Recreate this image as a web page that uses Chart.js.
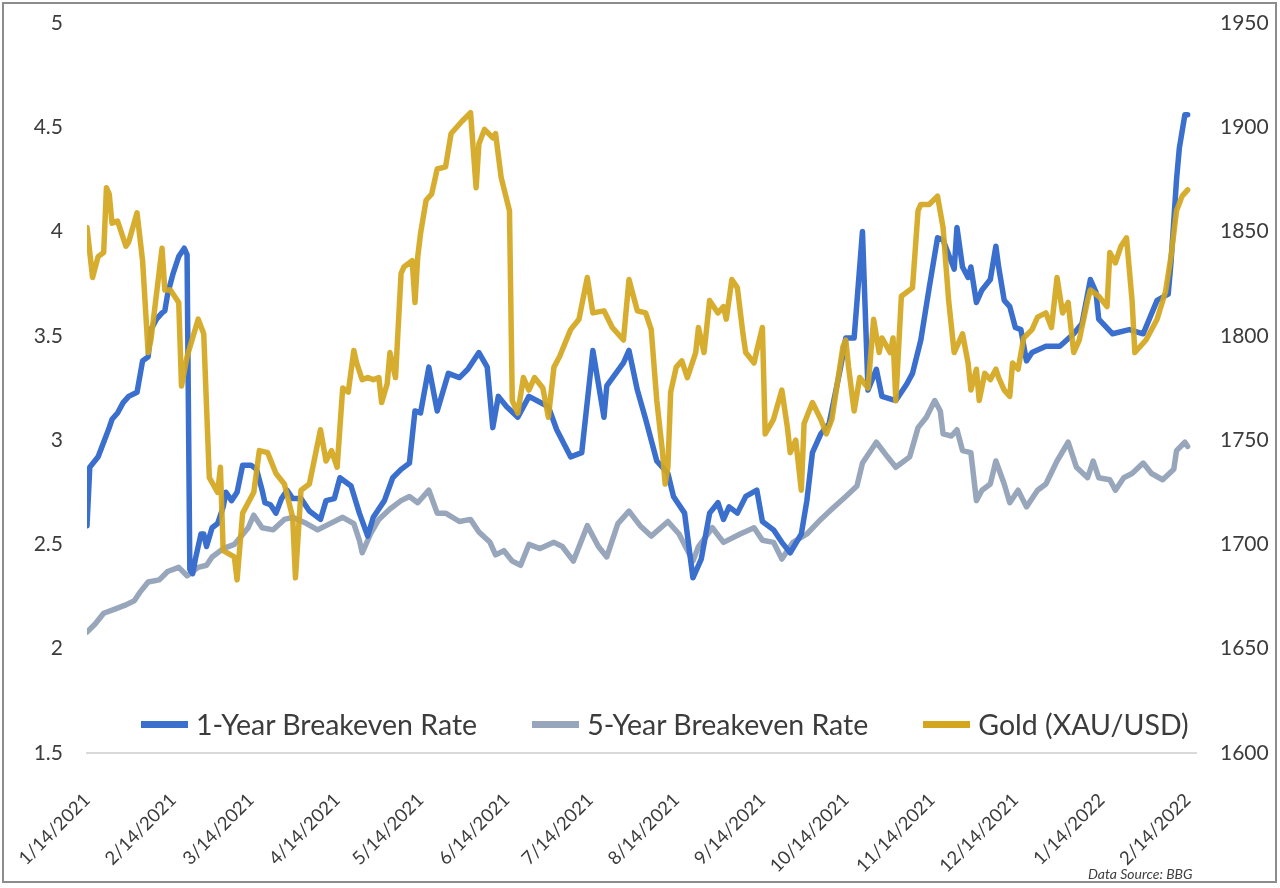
<!DOCTYPE html>
<html>
<head>
<meta charset="utf-8">
<script src="https://cdn.jsdelivr.net/npm/chart.js@4.4.0/dist/chart.umd.min.js"></script>
<style>
  html, body { margin: 0; padding: 0; background: #fff; }
  #wrap { position: relative; width: 1280px; height: 888px; }
  #frame { position: absolute; left: 2px; top: 2px; width: 1271px; height: 877px; border: 2px solid #8c8c8c; pointer-events: none; }
  #legend { position: absolute; left: 141px; top: 707px; display: flex; align-items: center; font-family: Lato, sans-serif; font-size: 28.5px; color: #3c3c3c; white-space: nowrap; }
  #legend .item { display: flex; align-items: center; margin-right: 55px; }
  #legend .swatch { display: inline-block; width: 47px; height: 7px; margin-right: 8px; }
  #source { position: absolute; left: 1088px; top: 865px; font: italic 14px Lato, sans-serif; color: #404040; }
</style>
</head>
<body>
<div id="wrap">
  <canvas id="chart" width="1280" height="888"></canvas>
  <div id="legend"></div>
  <div id="source">Data Source: BBG</div>
  <div id="frame"></div>
</div>
<script>
// x axis tick labels (monthly, m/d/yyyy)
const tickLabels = ['1/14/2021', '2/14/2021', '3/14/2021', '4/14/2021', '5/14/2021', '6/14/2021', '7/14/2021',
  '8/14/2021', '9/14/2021', '10/14/2021', '11/14/2021', '12/14/2021', '1/14/2022', '2/14/2022'];

// series: days counted from 1/14/2021
const oneYearDays = [0,1,4,6,8,9,11,13,15,18,20,22,23,25,27,28,29,31,33,35,36,37,38,39,41,42,43,45,47,49,50,52,54,56,59,61,63,64,66,68,70,72,74,77,80,84,86,89,91,95,98,101,103,107,110,113,116,118,120,123,126,130,134,137,141,144,146,148,151,155,159,166,169,174,178,182,186,187,193,195,198,201,205,209,211,215,218,221,224,227,229,231,234,237,241,243,247,250,253,257,259,261,264,267,271,273,276,279,281,284,286,291,295,297,300,303,306,308,312,313,315,317,318,320,322,325,327,328,330,332,334,336,338,340,345,350,355,358,361,363,364,369,375,380,385,389,390,392,393,395,396];
const oneYearRate = [2.59,2.87,2.92,2.99,3.06,3.10,3.13,3.18,3.21,3.23,3.38,3.40,3.53,3.58,3.61,3.62,3.70,3.80,3.88,3.92,3.89,2.38,2.36,2.43,2.55,2.55,2.49,2.58,2.60,2.68,2.75,2.71,2.75,2.88,2.88,2.86,2.76,2.70,2.69,2.65,2.72,2.76,2.72,2.72,2.66,2.62,2.71,2.72,2.82,2.78,2.65,2.54,2.63,2.71,2.82,2.86,2.89,3.14,3.13,3.35,3.14,3.32,3.30,3.34,3.42,3.35,3.06,3.21,3.16,3.11,3.21,3.16,3.05,2.92,2.94,3.43,3.11,3.26,3.37,3.43,3.24,3.10,2.90,2.84,2.73,2.65,2.34,2.43,2.65,2.70,2.62,2.68,2.65,2.73,2.76,2.61,2.57,2.51,2.46,2.55,2.71,2.94,3.03,3.08,3.34,3.49,3.49,4.00,3.24,3.34,3.21,3.19,3.27,3.32,3.48,3.73,3.97,3.96,3.82,4.02,3.83,3.78,3.83,3.66,3.72,3.77,3.93,3.83,3.67,3.64,3.54,3.53,3.38,3.42,3.45,3.45,3.51,3.56,3.77,3.71,3.58,3.51,3.53,3.51,3.67,3.70,3.85,4.25,4.40,4.56,4.56];

const fiveYearDays = [0,3,6,10,14,17,19,22,26,29,33,36,40,43,45,49,53,58,60,63,67,71,74,79,83,86,92,96,98,99,102,105,109,113,116,119,123,126,129,134,138,141,145,147,150,153,156,159,163,168,171,175,180,184,187,191,195,199,203,209,213,218,220,225,229,235,240,243,247,250,254,259,264,268,273,277,279,284,288,291,296,299,302,305,307,308,311,313,315,318,320,322,325,327,330,332,335,338,342,345,349,353,356,360,362,364,368,370,373,376,380,383,387,391,392,395,396];
const fiveYearRate = [2.08,2.12,2.17,2.19,2.21,2.23,2.27,2.32,2.33,2.37,2.39,2.35,2.39,2.40,2.44,2.48,2.50,2.58,2.64,2.58,2.57,2.62,2.63,2.60,2.57,2.59,2.63,2.60,2.52,2.46,2.55,2.62,2.67,2.71,2.73,2.70,2.76,2.65,2.65,2.61,2.62,2.56,2.51,2.45,2.47,2.42,2.40,2.50,2.48,2.51,2.49,2.42,2.59,2.49,2.44,2.60,2.66,2.59,2.54,2.61,2.55,2.42,2.49,2.58,2.51,2.55,2.58,2.52,2.51,2.43,2.51,2.55,2.62,2.67,2.73,2.78,2.89,2.99,2.92,2.87,2.92,3.06,3.11,3.19,3.14,3.03,3.02,3.05,2.95,2.94,2.71,2.76,2.79,2.90,2.79,2.70,2.76,2.68,2.76,2.79,2.90,2.99,2.87,2.82,2.90,2.82,2.81,2.76,2.82,2.84,2.89,2.84,2.81,2.86,2.95,2.99,2.97];

const goldDays = [0,2,4,6,7,8,9,11,14,15,18,20,22,23,27,28,30,33,34,36,40,42,44,47,48,49,53,54,56,60,62,65,68,71,74,75,77,80,82,84,86,88,90,92,94,96,97,99,101,103,105,106,108,109,111,113,114,117,118,119,120,122,124,126,129,131,133,135,138,140,141,143,146,147,149,152,153,155,157,159,161,164,166,168,170,174,177,180,182,186,189,193,195,198,201,203,205,207,208,209,210,212,214,216,219,220,222,224,227,229,230,232,234,236,237,240,241,243,244,247,250,252,253,255,257,258,261,264,266,268,272,273,274,276,278,281,283,285,286,289,290,291,293,297,299,300,303,306,308,310,312,314,315,317,318,320,321,323,325,327,328,330,332,333,335,337,340,342,345,347,349,351,353,355,357,360,361,364,367,368,370,372,374,376,377,381,385,388,390,392,394,396];
const goldPrice = [1852,1828,1838,1840,1871,1868,1854,1855,1843,1845,1859,1836,1792,1798,1842,1822,1822,1816,1776,1790,1808,1801,1732,1725,1737,1697,1694,1683,1715,1725,1745,1744,1734,1729,1713,1684,1726,1729,1742,1755,1740,1745,1737,1775,1773,1793,1787,1779,1780,1779,1780,1768,1777,1792,1780,1830,1833,1836,1816,1838,1849,1865,1868,1880,1881,1897,1900,1903,1907,1871,1892,1899,1895,1897,1876,1860,1769,1763,1780,1774,1780,1775,1761,1785,1790,1803,1808,1828,1811,1812,1804,1798,1827,1812,1811,1803,1769,1745,1729,1737,1773,1785,1788,1780,1792,1804,1792,1817,1811,1814,1808,1827,1823,1801,1792,1787,1793,1804,1753,1760,1774,1756,1744,1750,1726,1758,1768,1760,1753,1760,1795,1798,1785,1764,1780,1775,1808,1792,1799,1792,1799,1769,1819,1823,1860,1863,1863,1867,1852,1817,1792,1798,1801,1787,1774,1784,1769,1782,1779,1784,1780,1774,1771,1787,1784,1799,1803,1809,1811,1804,1828,1811,1816,1792,1798,1817,1822,1819,1814,1840,1835,1843,1847,1817,1792,1798,1808,1821,1838,1860,1867,1870];

const startDate = Date.UTC(2021, 0, 14);
function dayOf(label) {
  const [m, d, y] = label.split('/').map(Number);
  return Math.round((Date.UTC(y, m - 1, d) - startDate) / 86400000);
}
const tickDays = tickLabels.map(dayOf);

function toPoints(xs, ys) {
  return xs.map((x, i) => ({ x: x, y: ys[i] }));
}

// legend drawn as html, built from the chart datasets
const htmlLegend = {
  id: 'htmlLegend',
  afterUpdate(chart) {
    const box = document.getElementById('legend');
    box.innerHTML = '';
    chart.data.datasets.forEach((ds) => {
      const item = document.createElement('div');
      item.className = 'item';
      const sw = document.createElement('span');
      sw.className = 'swatch';
      sw.style.background = ds.legendColor;
      const txt = document.createElement('span');
      txt.textContent = ds.label;
      item.append(sw, txt);
      box.append(item);
    });
  }
};

Chart.defaults.font.family = 'Lato, sans-serif';
Chart.defaults.color = '#3c3c3c';

new Chart(document.getElementById('chart'), {
  type: 'line',
  data: {
    datasets: [
      {
        label: '1-Year Breakeven Rate',
        data: toPoints(oneYearDays, oneYearRate),
        borderColor: '#3A6FCE',
        legendColor: '#3A6FCE',
        yAxisID: 'y',
        order: 2
      },
      {
        label: '5-Year Breakeven Rate',
        data: toPoints(fiveYearDays, fiveYearRate),
        borderColor: '#98A6BC',
        legendColor: '#98A6BC',
        yAxisID: 'y',
        order: 3
      },
      {
        label: 'Gold (XAU/USD)',
        data: toPoints(goldDays, goldPrice),
        borderColor: 'rgba(212,166,30,0.92)',
        legendColor: '#D4A61E',
        yAxisID: 'y1',
        order: 1
      }
    ]
  },
  options: {
    responsive: false,
    animation: false,
    elements: {
      point: { radius: 0 },
      line: { borderWidth: 5.5, tension: 0, borderJoinStyle: 'round', borderCapStyle: 'round' }
    },
    layout: { padding: { left: 33, right: 11, top: 23, bottom: 0 } },
    plugins: {
      legend: { display: false },
      tooltip: { enabled: false }
    },
    scales: {
      x: {
        type: 'linear',
        min: 0,
        max: 399,
        grid: { display: false },
        border: { display: true, color: '#d9d9d9', width: 2 },
        afterBuildTicks: (scale) => {
          scale.ticks = tickDays.map((v) => ({ value: v }));
        },
        afterFit: (scale) => {
          // keep the plot edges where the axes put them
          scale.paddingLeft = 0;
          scale.paddingRight = 0;
          scale.height = 135;
        },
        ticks: {
          autoSkip: false,
          minRotation: 45,
          maxRotation: 45,
          padding: 28,
          font: { size: 18.5 },
          callback: (value, index) => tickLabels[index]
        }
      },
      y: {
        position: 'left',
        min: 1.5,
        max: 5,
        grid: { display: false, drawTicks: false },
        border: { display: false },
        afterFit: (scale) => {
          scale.width = 54;
          scale.paddingTop = 0;
          scale.paddingBottom = 0;
        },
        ticks: { stepSize: 0.5, padding: 24, font: { size: 21 }, callback: (v) => String(v) }
      },
      y1: {
        position: 'right',
        min: 1600,
        max: 1950,
        grid: { display: false, drawTicks: false },
        border: { display: false },
        afterFit: (scale) => {
          scale.width = 73;
          scale.paddingTop = 0;
          scale.paddingBottom = 0;
        },
        ticks: { stepSize: 50, padding: 24, font: { size: 21 }, callback: (v) => String(v) }
      }
    }
  },
  plugins: [htmlLegend]
});
</script>
</body>
</html>
